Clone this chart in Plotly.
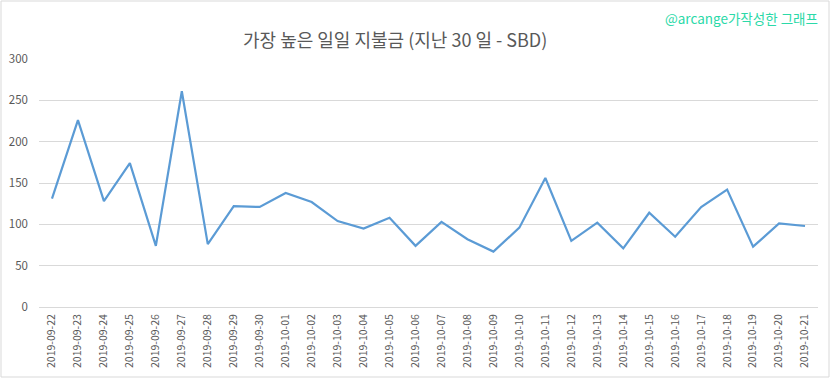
import plotly.graph_objects as go

dates = [
    "2019-09-22", "2019-09-23", "2019-09-24", "2019-09-25", "2019-09-26",
    "2019-09-27", "2019-09-28", "2019-09-29", "2019-09-30", "2019-10-01",
    "2019-10-02", "2019-10-03", "2019-10-04", "2019-10-05", "2019-10-06",
    "2019-10-07", "2019-10-08", "2019-10-09", "2019-10-10", "2019-10-11",
    "2019-10-12", "2019-10-13", "2019-10-14", "2019-10-15", "2019-10-16",
    "2019-10-17", "2019-10-18", "2019-10-19", "2019-10-20", "2019-10-21",
]
payouts = [
    131, 226, 128, 174, 74, 261, 76, 122, 121, 138,
    127, 104, 95, 108, 74, 103, 82, 67, 96, 156,
    80, 102, 71, 114, 85, 121, 142, 73, 101, 98,
]
y_ticks = [0, 50, 100, 150, 200, 250, 300]

title_text = "가장 높은 일일 지불금 (지난 30 일 - SBD)"
credit_text = "@arcange가작성한 그래프"

font_family = "Noto Sans CJK KR, Noto Sans, sans-serif"

fig = go.Figure()
fig.add_trace(go.Scatter(
    x=dates, y=payouts, mode="lines",
    line=dict(color="#5B9BD5", width=2.2),
    hoverinfo="x+y", showlegend=False, cliponaxis=False,
))

W, H = 833, 379
L, R, T, B = 39, 15, 59, 72
pw, ph = W - L - R, H - T - B

def px_x(p):
    return (p - L) / pw

def px_y(p):
    return (H - B - p) / ph

fig.update_layout(
    width=W, height=H,
    margin=dict(l=L, r=R, t=T, b=B, autoexpand=False),
    paper_bgcolor="white", plot_bgcolor="white",
    font=dict(family=font_family, color="#595959"),
    xaxis=dict(
        type="category", tickangle=-90, automargin=False,
        range=[-0.5, len(dates) - 0.5],
        tickfont=dict(size=10.5, color="#595959", family=font_family),
        showgrid=False, showline=False, zeroline=False,
        ticks="", ticklabelstandoff=4,
    ),
    yaxis=dict(
        range=[0, 300], tickvals=y_ticks, automargin=False,
        tickfont=dict(size=11.5, color="#595959", family=font_family),
        showgrid=True, gridcolor="#D9D9D9", gridwidth=1,
        zeroline=True, zerolinecolor="#D9D9D9", zerolinewidth=1,
        showline=False, ticks="", ticklabelstandoff=10,
    ),
    shapes=[dict(
        type="rect", xref="paper", yref="paper",
        x0=px_x(1), x1=px_x(829), y0=px_y(377), y1=px_y(1),
        line=dict(color="#D9D9D9", width=1), fillcolor="rgba(0,0,0,0)",
        layer="above",
    )],
    annotations=[
        dict(text=title_text, xref="paper", yref="paper",
             x=px_x(395), y=px_y(39), xanchor="center", yanchor="middle",
             showarrow=False, font=dict(size=18, color="#595959", family=font_family)),
        dict(text=credit_text, xref="paper", yref="paper",
             x=px_x(820), y=px_y(18), xanchor="right", yanchor="middle",
             showarrow=False, font=dict(size=13.5, color="#2BD9A8", family=font_family)),
    ],
)

fig.write_html(
    "out.html",
    config={"displayModeBar": False},
    post_script="document.body.style.margin='0';document.body.style.overflow='hidden';",
)
